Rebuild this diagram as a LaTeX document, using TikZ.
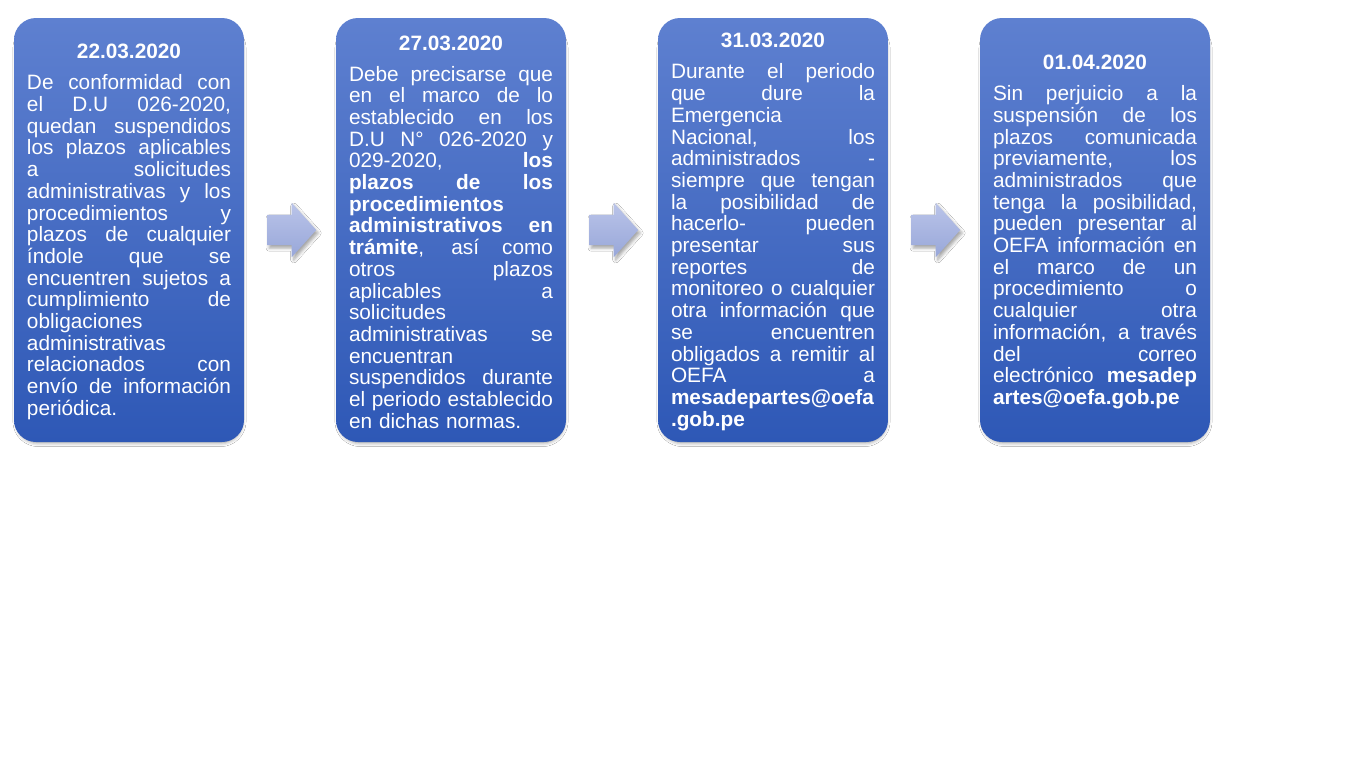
\documentclass[tikz,border=0pt]{standalone}
\usepackage{fontspec}
\setmainfont{Liberation Sans}
\usetikzlibrary{shapes.arrows,shadows.blur,calc}
\definecolor{azulclaro}{RGB}{94,128,208}
\definecolor{azuloscuro}{RGB}{46,88,182}
\definecolor{lilaclaro}{RGB}{186,196,233}
\definecolor{lilaoscuro}{RGB}{152,167,217}
% Lineas de texto
\newcommand{\lj}[1]{\hbox to \hsize{\spaceskip=0.28em plus 1fil\relax #1}\par}
\newcommand{\lz}[1]{#1\par}
\newcommand{\fecha}[1]{{\centering\bfseries #1\par}\vspace{9.3pt}}
\newcommand{\cierre}{\par\kern-4pt}
\begin{document}
\begin{tikzpicture}[x=1pt,y=-1pt]
	% Estilos (MODIFICABLES)
	\tikzstyle{caja}=[rounded corners=22pt,top color=azulclaro,bottom color=azuloscuro,text=white,text width=204pt,inner xsep=13pt,inner ysep=0pt,minimum height=424pt,font=\fontsize{20.8}{21.7}\selectfont,execute at end node=\cierre,blur shadow={shadow xshift=0.5pt,shadow yshift=-5pt,shadow blur radius=4pt,shadow scale=0.98,shadow opacity=45}]
	\tikzstyle{flecha}=[single arrow,anchor=tail,top color=lilaclaro,bottom color=lilaoscuro,minimum height=49pt,inner xsep=0pt,inner ysep=15pt,outer sep=0pt,single arrow head extend=12pt,single arrow tip angle=96,single arrow head indent=0pt,blur shadow={shadow xshift=2pt,shadow yshift=-3pt,shadow blur radius=3pt,shadow opacity=35}]
	% Dimensiones (MODIFICABLES)
	\def\AnchoCaja{230}
	\def\DistanciaEntreCajas{322}
	\def\MargenIzq{14}
	\def\CentroY{230}
	\def\SeparacionFlecha{23}
	% Dimensiones calculadas (NO MODIFICABLES)
	\def\PrimeraCaja{(\MargenIzq+0.5*\AnchoCaja)}
	\path[use as bounding box,fill=white] (0,0) rectangle (1360,764);
	% Cajas
	\node[caja] (c1) at ({\PrimeraCaja+(0)*\DistanciaEntreCajas},\CentroY) {%
		\fecha{22.03.2020}
		\lj{De conformidad con}
		\lj{el D.U 026-2020,}
		\lj{quedan suspendidos}
		\lj{los plazos aplicables}
		\lj{a solicitudes}
		\lj{administrativas y los}
		\lj{procedimientos y}
		\lj{plazos de cualquier}
		\lj{índole que se}
		\lj{encuentren sujetos a}
		\lj{cumplimiento de}
		\lz{obligaciones}
		\lz{administrativas}
		\lj{relacionados con}
		\lj{envío de información}
		\lz{periódica.}};
	\node[caja] (c2) at ({\PrimeraCaja+(1)*\DistanciaEntreCajas},\CentroY) {%
		\fecha{27.03.2020}
		\lj{Debe precisarse que}
		\lj{en el marco de lo}
		\lj{establecido en los}
		\lj{D.U N° 026-2020 y}
		\lj{029-2020, \textbf{los}}
		\lj{\textbf{plazos de los}}
		\lz{\textbf{procedimientos}}
		\lj{\textbf{administrativos en}}
		\lj{\textbf{trámite}, así como}
		\lj{otros plazos}
		\lj{aplicables a}
		\lz{solicitudes}
		\lj{administrativas se}
		\lz{encuentran}
		\lj{suspendidos durante}
		\lj{el periodo establecido}
		\lz{en dichas normas.}};
	\node[caja] (c3) at ({\PrimeraCaja+(2)*\DistanciaEntreCajas},\CentroY) {%
		\fecha{31.03.2020}
		\lj{Durante el periodo}
		\lj{que dure la}
		\lz{Emergencia}
		\lj{Nacional, los}
		\lj{administrados -}
		\lj{siempre que tengan}
		\lj{la posibilidad de}
		\lj{hacerlo- pueden}
		\lj{presentar sus}
		\lj{reportes de}
		\lj{monitoreo o cualquier}
		\lj{otra información que}
		\lj{se encuentren}
		\lj{obligados a remitir al}
		\lj{OEFA a}
		\lz{\textbf{mesadepartes@oefa}}
		\lz{\textbf{.gob.pe}}};
	\node[caja] (c4) at ({\PrimeraCaja+(3)*\DistanciaEntreCajas},\CentroY) {%
		\fecha{01.04.2020}
		\lj{Sin perjuicio a la}
		\lj{suspensión de los}
		\lj{plazos comunicada}
		\lj{previamente, los}
		\lj{administrados que}
		\lj{tenga la posibilidad,}
		\lj{pueden presentar al}
		\lj{OEFA información en}
		\lj{el marco de un}
		\lj{procedimiento o}
		\lj{cualquier otra}
		\lj{información, a través}
		\lj{del correo}
		\lj{electrónico \textbf{mesadep}}
		\lz{\textbf{artes@oefa.gob.pe}}};
	% Flechas
	\node[flecha] (f1) at ($(c1.east)+(\SeparacionFlecha,0)$) {};
	\node[flecha] (f2) at ($(c2.east)+(\SeparacionFlecha,0)$) {};
	\node[flecha] (f3) at ($(c3.east)+(\SeparacionFlecha,0)$) {};
\end{tikzpicture}
\end{document}
